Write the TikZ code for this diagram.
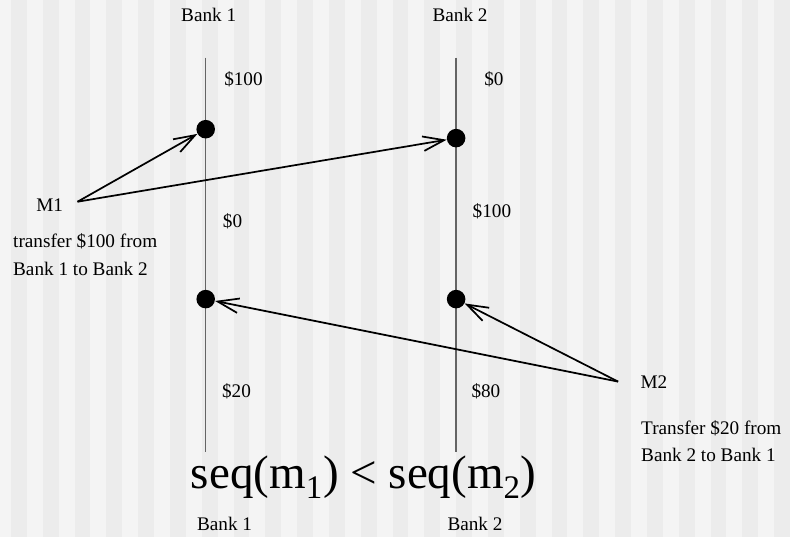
\documentclass[tikz,border=0pt]{standalone}
\usepackage{fontspec}
\setmainfont{Liberation Serif}
\usetikzlibrary{arrows.meta}
\definecolor{stripe}{RGB}{236,236,236}
\definecolor{paper}{RGB}{244,244,244}
\definecolor{axis}{RGB}{100,100,100}
\begin{document}
\begin{tikzpicture}[
  x=0.75pt, y=-0.75pt,
  lab/.style={font=\fontsize{14.5}{21}\selectfont, inner sep=0pt},
  ev/.style={circle, fill=black, inner sep=0pt, minimum size=14pt},
  line/.style={draw=axis, line width=1.1pt},
  msg/.style={-{Straight Barb[length=16pt, width=11pt, line width=1.3pt]}, line width=1.3pt}]
  \fill[paper] (0,0) rectangle (790,540);
  \foreach \i in {0,...,24}
    \fill[stripe] (11+32*\i,0) rectangle (27+32*\i,540);
  \useasboundingbox (0,0) rectangle (790,540);
  \node[lab] (bank1) at (210,15) {Bank 1};
  \node[lab] (bank2) at (463,15) {Bank 2};
  \coordinate (top1) at (207,58);
  \coordinate (top2) at (459,58);
  \coordinate (bot1) at (207,455);
  \coordinate (bot2) at (459,455);
  \draw[line] (top1) -- (bot1);
  \draw[line] (top2) -- (bot2);
  \node[ev] (d1) at (207,130) {};
  \node[ev] (d2) at (459,139) {};
  \node[ev] (d3) at (207,301) {};
  \node[ev] (d4) at (459,301) {};
  \node[lab] (b1a) at (245,80) {\$100};
  \node[lab] (b2a) at (497,80) {\$0};
  \node[lab] (b1b) at (234,223) {\$0};
  \node[lab] (b2b) at (495,213) {\$100};
  \node[lab] (b1c) at (238,394) {\$20};
  \node[lab] (b2c) at (489,394) {\$80};
  \node[lab] (m1) at (50,206) {M1};
  \node[lab, anchor=west, align=left] (m1txt) at (13,256) {transfer \$100 from\\Bank 1 to Bank 2};
  \node[lab] (m2) at (658,385) {M2};
  \node[lab, anchor=west, align=left] (m2txt) at (645,444) {Transfer \$20 from\\Bank 2 to Bank 1};
  \coordinate (m1src) at (78,203);
  \coordinate (m2src) at (622,384);
  \draw[msg] (m1src) -- (d1);
  \draw[msg] (m1src) -- (d2);
  \draw[msg] (m2src) -- (d3);
  \draw[msg] (m2src) -- (d4);
  \node[font=\fontsize{35.5}{40}\selectfont, inner sep=0pt] (order) at (366,480)
    {seq(m\textsubscript{1}) < seq(m\textsubscript{2})};
  \node[lab] (bank1b) at (226,527) {Bank 1};
  \node[lab] (bank2b) at (478,527) {Bank 2};
\end{tikzpicture}
\end{document}
